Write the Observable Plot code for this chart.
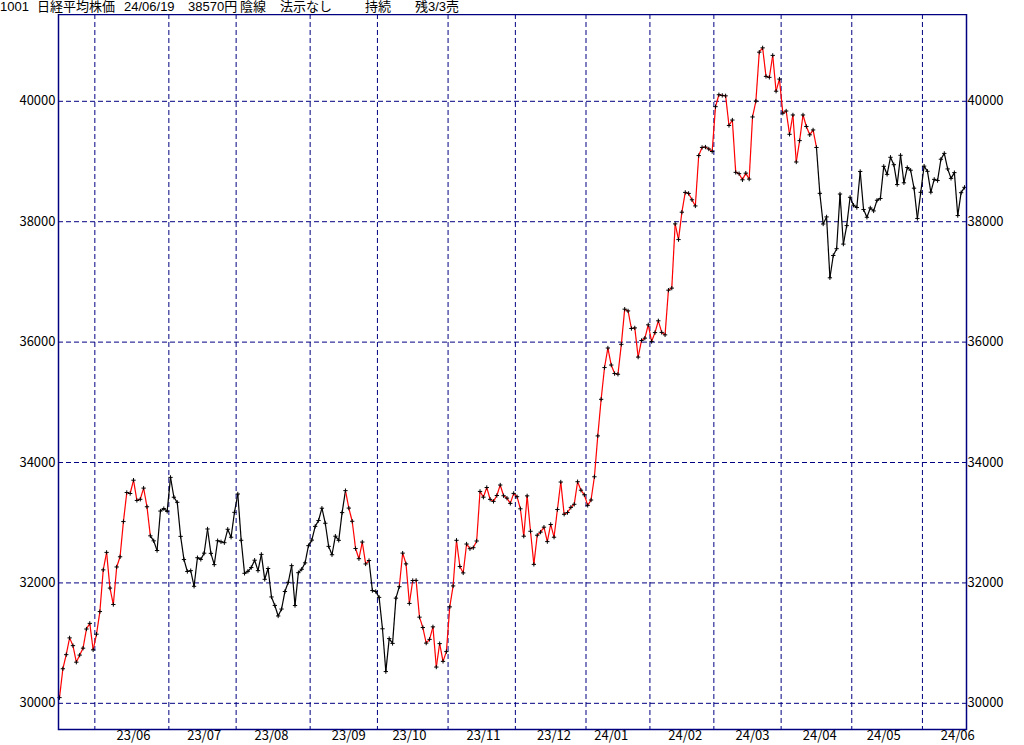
<!DOCTYPE html>
<html><head><meta charset="utf-8">
<script src="https://cdn.jsdelivr.net/npm/d3@7"></script>
<script src="https://cdn.jsdelivr.net/npm/@observablehq/plot@0.6"></script>
<style>
html,body{margin:0;padding:0;background:#fff;}
#title{position:relative;height:14px;width:1024px;overflow:visible;font-family:"Liberation Sans","Noto Sans CJK JP",sans-serif;font-size:13px;line-height:14px;color:#000;white-space:pre;}
#title span{position:absolute;top:0;height:14px;}
#chart svg{display:block;}
</style></head><body>
<div id="title"></div>
<div id="chart"></div>
<script>
// Daily closes (yen), one array per month
const may23 = [30094, 30574, 30808, 31087, 30958, 30683, 30801, 30916, 31234, 31328, 30888];
const jun23 = [31148, 31524, 32217, 32507, 31914, 31641, 32265, 32434, 33019, 33502, 33485, 33706, 33370, 33389, 33575, 33265, 32782, 32699, 32538, 33194, 33234, 33189];
const jul23 = [33753, 33423, 33339, 32773, 32388, 32190, 32204, 31944, 32419, 32391, 32494, 32896, 32491, 32304, 32701, 32683, 32668, 32891, 32759, 33172];
const aug23 = [33477, 32708, 32159, 32193, 32255, 32377, 32204, 32474, 32060, 32239, 31767, 31626, 31451, 31566, 31857, 32010, 32287, 31624, 32170, 32227, 32333, 32619];
const sep23 = [32711, 32939, 33037, 33241, 32991, 32607, 32468, 32776, 32707, 33168, 33533, 33243, 33024, 32571, 32402, 32679, 32315, 32372, 31873, 31858];
const oct23 = [31760, 31238, 30527, 31075, 30995, 31747, 31937, 32495, 32316, 31659, 32040, 32042, 31431, 31259, 31000, 31062, 31270, 30602, 30992, 30697, 30859];
const nov23 = [31602, 31950, 32708, 32272, 32166, 32646, 32568, 32585, 32696, 33520, 33424, 33585, 33388, 33354, 33452, 33626, 33448, 33408, 33321, 33487];
const dec23 = [33432, 33231, 32776, 33446, 32858, 32308, 32792, 32844, 32926, 32686, 32971, 32759, 33219, 33676, 33140, 33169, 33255, 33306, 33681, 33540, 33464];
const jan24 = [33288, 33377, 33763, 34442, 35050, 35577, 35902, 35619, 35478, 35466, 35963, 36547, 36518, 36226, 36236, 35751, 36027, 36066, 36287];
const feb24 = [36011, 36158, 36354, 36161, 36120, 36863, 36897, 37964, 37703, 38158, 38487, 38470, 38364, 38262, 39099, 39234, 39240, 39208, 39166];
const mar24 = [39911, 40109, 40098, 40091, 39599, 39689, 38820, 38798, 38696, 38807, 38708, 39740, 40004, 40816, 40888, 40414, 40398, 40763, 40168, 40369];
const apr24 = [39803, 39839, 39452, 39773, 38992, 39347, 39773, 39582, 39443, 39524, 39233, 38471, 37962, 38080, 37068, 37439, 37552, 38460, 37628, 37935, 38406];
const may24 = [38274, 38236, 38835, 38202, 38074, 38229, 38179, 38356, 38386, 38920, 38787, 39070, 38947, 38617, 39103, 38646, 38900, 38855, 38557, 38054, 38488];
const jun24 = [38923, 38837, 38490, 38704, 38684, 39038, 39135, 38877, 38720, 38815, 38102, 38482, 38571];

// Month tick labels (from 23/06) and the trading day within each month where the label sits
const xLabels = ["23/06","23/07","23/08","23/09","23/10","23/11","23/12","24/01","24/02","24/03","24/04","24/05","24/06"];
const labelDayInMonth = [11, 10, 10, 11, 9, 10, 11, 7, 10, 11, 11, 9, 10];

// Price axis ticks
const yTicks = [30000, 32000, 34000, 36000, 38000, 40000];

// Trading-day index runs in the "陽線" (red) state; the rest are "陰線" (black)
const redRuns = [[0, 26], [85, 91], [101, 224]];

// Title pieces
const titleParts = ["1001", "日経平均株価", "24/06/19", "38570円", "陰線", "法示なし", "持続", "残3/3売"];
const titleLeft = [0, 37, 124, 188, 240, 280, 365, 415];

const title = document.getElementById("title");
titleParts.forEach((t, k) => {
  const s = document.createElement("span");
  s.textContent = t;
  s.style.left = titleLeft[k] + "px";
  title.appendChild(s);
});

const monthArrays = [may23, jun23, jul23, aug23, sep23, oct23, nov23, dec23, jan24, feb24, mar24, apr24, may24, jun24];
const closes = monthArrays.flat();
const starts = [];
{ let s = 0; for (const m of monthArrays) { starts.push(s); s += m.length; } }
const monthBoundaries = starts.slice(1);
const labelIdx = monthBoundaries.map((st, k) => st + labelDayInMonth[k]);
const labelMap = new Map(labelIdx.map((d, k) => [d, xLabels[k]]));

const isRed = i => redRuns.some(([a, b]) => i >= a && i <= b);
const pts = closes.map((v, i) => ({i, v}));
const segs = d3.range(closes.length - 1).map(i => ({x1: i, x2: i + 1, y1: closes[i], y2: closes[i + 1], red: isRed(i)}));

const navy = "#000080";
const chart = Plot.plot({
  width: 1024,
  height: 731,
  marginLeft: 58,
  marginRight: 58,
  marginTop: 0,
  marginBottom: 16,
  style: {fontFamily: "'Noto Sans CJK JP', sans-serif", fontSize: "13px", color: "#000", background: "#fff"},
  x: {type: "linear", domain: [-0.3, 269.6], axis: null},
  y: {domain: [29565, 41442], axis: null},
  marks: [
    Plot.ruleY(yTicks, {stroke: navy, strokeWidth: 1, strokeDasharray: "5,3"}),
    Plot.ruleX(monthBoundaries, {x: d => d - 0.5, stroke: navy, strokeWidth: 1, strokeDasharray: "5,3"}),
    Plot.link(segs.filter(d => !d.red), {x1: "x1", x2: "x2", y1: "y1", y2: "y2", stroke: "#000000", strokeWidth: 1.2}),
    Plot.link(segs.filter(d => d.red), {x1: "x1", x2: "x2", y1: "y1", y2: "y2", stroke: "#ff0000", strokeWidth: 1.2}),
    Plot.dot(pts, {x: "i", y: "v", symbol: "plus", r: 1.5, stroke: "#000", strokeWidth: 1}),
    Plot.frame({stroke: navy, strokeWidth: 1.5}),
    Plot.axisY(yTicks, {anchor: "left", tickSize: 0, tickPadding: 3, tickFormat: d => String(d)}),
    Plot.axisY(yTicks, {anchor: "right", tickSize: 0, tickPadding: 1, tickFormat: d => String(d)}),
    Plot.axisX(labelIdx, {anchor: "bottom", tickSize: 0, tickPadding: 1, tickFormat: d => labelMap.get(d)})
  ]
});
document.getElementById("chart").appendChild(chart);
</script></body></html>
